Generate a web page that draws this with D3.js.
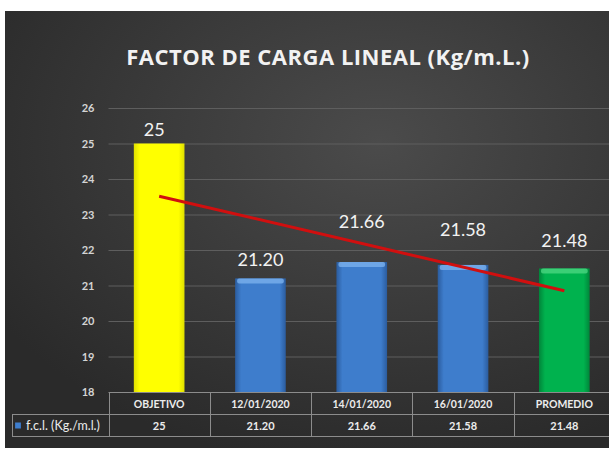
<!DOCTYPE html>
<html>
<head>
<meta charset="utf-8">
<script src="https://cdn.jsdelivr.net/npm/d3@7"></script>
<style>
  html, body { margin: 0; padding: 0; background: #fff; }
  svg { display: block; font-family: Lato, "Open Sans", sans-serif; }
</style>
</head>
<body>
<svg id="chart" width="609" height="450"></svg>
<script>
/************** Data **************/
const categories = ["OBJETIVO", "12/01/2020", "14/01/2020", "16/01/2020", "PROMEDIO"];
const values     = [25, 21.20, 21.66, 21.58, 21.48];
const valueLabels = ["25", "21.20", "21.66", "21.58", "21.48"];
const yTicks     = [18, 19, 20, 21, 22, 23, 24, 25, 26];
const seriesName = "f.c.l. (Kg./m.l.)";
const chartTitle = "FACTOR DE CARGA LINEAL (Kg/m.L.)";

/************** Layout **************/
const W = 609, H = 450;
const plot = { left: 108.5, right: 615, top: 108, bottom: 392 };
const rowH = 22;
const legendLeft = 12;
// how far each data label sits above its bar (Excel moved some by hand)
const labelLift = [8, 12, 34, 29, 21];
const barFill = ["url(#gYellow)", "url(#gBlue)", "url(#gBlue)", "url(#gBlue)", "url(#gGreen)"];

const svg = d3.select("#chart");
const defs = svg.append("defs");

// background gradient
const bg = defs.append("radialGradient").attr("id", "gBg")
  .attr("cx", "62%").attr("cy", "30%").attr("r", "75%");
bg.append("stop").attr("offset", "0%").attr("stop-color", "#4b4b4b");
bg.append("stop").attr("offset", "100%").attr("stop-color", "#2a2a2a");

const mkBar = (id, edge, mid) => {
  const g = defs.append("linearGradient").attr("id", id)
    .attr("x1", 0).attr("x2", 1).attr("y1", 0).attr("y2", 0);
  g.append("stop").attr("offset", "0%").attr("stop-color", edge);
  g.append("stop").attr("offset", "12%").attr("stop-color", mid);
  g.append("stop").attr("offset", "88%").attr("stop-color", mid);
  g.append("stop").attr("offset", "100%").attr("stop-color", edge);
};
mkBar("gBlue", "#2b5c9e", "#3e7dcc");
mkBar("gGreen", "#00863a", "#00b24e");
mkBar("gYellow", "#e0e000", "#ffff00");

svg.append("rect")
  .attr("x", 5).attr("y", 11).attr("width", W - 5).attr("height", 437)
  .attr("fill", "url(#gBg)");

/************** Scales **************/
const x = d3.scaleBand()
  .domain(categories)
  .range([plot.left, plot.right])
  .paddingInner(0.5).paddingOuter(0.25);

const y = d3.scaleLinear()
  .domain([18, 26])
  .range([plot.bottom, plot.top]);

/************** Title **************/
svg.append("text")
  .attr("x", 328).attr("y", 65)
  .attr("text-anchor", "middle")
  .attr("fill", "#f2f2f2")
  .style("font-family", "'Open Sans', sans-serif")
  .style("font-size", "22px").style("font-weight", 700)
  .style("letter-spacing", "0.5px")
  .text(chartTitle);

/************** Gridlines + y axis **************/
svg.append("g").selectAll("line")
  .data(yTicks.slice(1))
  .join("line")
    .attr("x1", plot.left).attr("x2", W)
    .attr("y1", d => y(d) + 0.5).attr("y2", d => y(d) + 0.5)
    .attr("stroke", "#5e5e5e").attr("stroke-width", 1);

const yAxis = svg.append("g")
  .attr("transform", `translate(${plot.left - 14},0)`)
  .call(d3.axisLeft(y).tickValues(yTicks).tickSize(0).tickPadding(0).tickFormat(d3.format("d")));
yAxis.select(".domain").remove();
yAxis.selectAll("text")
  .attr("fill", "#d4d4d4")
  .style("font-family", "Lato, sans-serif")
  .style("font-size", "11px").style("font-weight", 700);

/************** Bars **************/
const idx = d3.range(categories.length);

svg.append("g").selectAll("rect")
  .data(idx)
  .join("rect")
    .attr("x", i => x(categories[i]))
    .attr("y", i => y(values[i]))
    .attr("width", x.bandwidth())
    .attr("height", i => y(18) - y(values[i]))
    .attr("fill", i => barFill[i]);

// top bevel on the shaded bars
svg.append("g").selectAll("rect")
  .data(idx.filter(i => i > 0))
  .join("rect")
    .attr("x", i => x(categories[i]) + 2)
    .attr("y", i => y(values[i]))
    .attr("width", x.bandwidth() - 4)
    .attr("height", 5)
    .attr("rx", 2)
    .attr("fill", i => i === 4 ? "#4fd884" : "#7fb4ef")
    .attr("opacity", 0.75);

/************** Trendline (linear regression) **************/
const xs = idx.map(i => i + 1);
const mx = d3.mean(xs), my = d3.mean(values);
const slope = d3.sum(idx, i => (xs[i] - mx) * (values[i] - my)) / d3.sum(xs, v => (v - mx) ** 2);
const icpt = my - slope * mx;
const trend = [0, categories.length - 1].map(i => [
  x(categories[i]) + x.bandwidth() / 2,
  y(icpt + slope * (i + 1))
]);
svg.append("path")
  .attr("d", d3.line()(trend))
  .attr("stroke", "#d10f0f").attr("stroke-width", 3)
  .attr("fill", "none");

/************** Data labels **************/
svg.append("g").selectAll("text")
  .data(idx)
  .join("text")
    .attr("x", i => x(categories[i]) + x.bandwidth() / 2 - (i === 0 ? 5 : 0))
    .attr("y", i => y(values[i]) - labelLift[i])
    .attr("text-anchor", "middle")
    .attr("fill", "#f2f2f2")
    .style("font-size", "18px")
    .text(i => valueLabels[i]);

/************** Data table **************/
const tbl = svg.append("g").attr("stroke", "#8c8c8c").attr("stroke-width", 1).attr("fill", "none");
const t0 = plot.bottom + 0.5, t1 = t0 + rowH, t2 = t1 + rowH;
// horizontal rules
tbl.append("line").attr("x1", plot.left).attr("x2", W).attr("y1", t0).attr("y2", t0);
tbl.append("line").attr("x1", legendLeft).attr("x2", W).attr("y1", t1).attr("y2", t1);
tbl.append("line").attr("x1", legendLeft).attr("x2", W).attr("y1", t2).attr("y2", t2);
tbl.append("line").attr("x1", legendLeft + 0.5).attr("x2", legendLeft + 0.5).attr("y1", t1).attr("y2", t2);
// column separators
tbl.selectAll("line.col")
  .data(categories)
  .join("line").attr("class", "col")
    .attr("x1", d => Math.round(x(d) - x.step() * 0.25) + 0.5)
    .attr("x2", d => Math.round(x(d) - x.step() * 0.25) + 0.5)
    .attr("y1", t0).attr("y2", t2);

svg.append("g").selectAll("text")
  .data(categories)
  .join("text")
    .attr("x", d => x(d) + x.bandwidth() / 2)
    .attr("y", t0 + 15)
    .attr("text-anchor", "middle")
    .attr("fill", "#ececec")
    .style("font-size", "10.5px").style("font-weight", 700)
    .text(d => d);

svg.append("g").selectAll("text")
  .data(idx)
  .join("text")
    .attr("x", i => x(categories[i]) + x.bandwidth() / 2)
    .attr("y", t1 + 15)
    .attr("text-anchor", "middle")
    .attr("fill", "#ececec")
    .style("font-size", "11px").style("font-weight", 700)
    .text(i => valueLabels[i]);

// legend key
svg.append("rect")
  .attr("x", legendLeft + 3).attr("y", t1 + 8)
  .attr("width", 6).attr("height", 6)
  .attr("fill", "url(#gBlue)");
svg.append("text")
  .attr("x", legendLeft + 14).attr("y", t1 + 15.5)
  .attr("fill", "#ececec")
  .style("font-size", "12.5px")
  .text(seriesName);
</script>
</body>
</html>
